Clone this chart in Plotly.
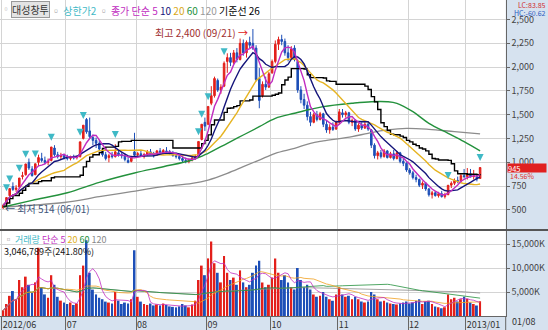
import plotly.graph_objects as go
import pandas as pd

# ---------------- data ----------------
month_labels = ["2012/06", "07", "08", "09", "10", "11", "12", "2013/01"]
month_bounds = [-0.5, 19.5, 41.5, 63.5, 83.5, 104.5, 126.5, 144.5]

open_ = [520, 560, 650, 745, 715, 740, 850, 870, 1000, 930,
         870, 1000, 1040, 1020, 1000, 1020, 1150, 1080, 1060, 1070,
         1050, 1040, 1060, 1050, 1060, 1250, 1450, 1330, 1260, 1230,
         1200, 1130, 1080, 1050, 1070, 1060, 1100, 1080, 1070, 1020,
         1010, 1110, 1080, 1090, 1070, 1080, 1110, 1090, 1075, 1120,
         1100, 1120, 1110, 1095, 1070, 1060, 1040, 1020, 1010, 1030,
         1045, 1060, 1240, 1420, 1400, 1620, 1700, 1860, 1760, 1800,
         2060, 2100, 2050, 2150, 2080, 2250, 2150, 2260, 2250, 2200,
         1880, 1700, 1820, 1790, 1940, 2060, 2240, 2290, 2270, 2150,
         2100, 2200, 2060, 1760, 1660, 1600, 1480, 1420, 1500, 1450,
         1510, 1400, 1340, 1370, 1350, 1420, 1520, 1500, 1520, 1420,
         1440, 1350, 1390, 1360, 1400, 1340, 1180, 1070, 1100, 1060,
         1120, 1050, 1090, 1040, 1100, 1010, 990, 920, 890, 840,
         820, 760, 780, 720, 660, 680, 650, 670, 640, 660,
         760, 780, 810, 800, 860, 850, 880, 850, 850, 830]
high = [565, 630, 724, 790, 760, 835, 900, 983, 1040, 960,
        985, 1080, 1100, 1060, 1040, 1161, 1180, 1110, 1100, 1090,
        1080, 1070, 1080, 1070, 1215, 1390, 1465, 1470, 1290, 1260,
        1230, 1150, 1110, 1090, 1110, 1190, 1130, 1100, 1090, 1060,
        1070, 1310, 1110, 1120, 1100, 1130, 1140, 1110, 1130, 1150,
        1140, 1160, 1130, 1120, 1100, 1080, 1070, 1050, 1040, 1060,
        1080, 1220, 1402, 1470, 1587, 1800, 1900, 1880, 1820, 2060,
        2145, 2150, 2180, 2200, 2300, 2290, 2280, 2320, 2400, 2230,
        1990, 1850, 1900, 1950, 2080, 2280, 2320, 2340, 2300, 2230,
        2220, 2230, 2080, 1800, 1720, 1640, 1530, 1520, 1540, 1530,
        1520, 1440, 1400, 1420, 1440, 1560, 1560, 1540, 1530, 1460,
        1450, 1410, 1420, 1430, 1420, 1350, 1200, 1120, 1130, 1140,
        1130, 1110, 1130, 1120, 1110, 1040, 1000, 940, 910, 870,
        830, 800, 790, 730, 700, 700, 690, 700, 680, 760,
        800, 830, 850, 880, 930, 940, 930, 920, 870, 950]
low = [514, 555, 640, 700, 690, 735, 820, 860, 920, 850,
       865, 960, 1000, 980, 970, 1010, 1060, 1040, 1030, 1030,
       1020, 1020, 1030, 1030, 1050, 1240, 1300, 1250, 1180, 1150,
       1120, 1060, 1020, 1000, 1040, 1050, 1060, 1040, 1010, 990,
       1000, 1060, 1050, 1060, 1040, 1070, 1080, 1050, 1070, 1090,
       1080, 1100, 1080, 1060, 1040, 1020, 1000, 990, 990, 1010,
       1030, 1055, 1230, 1330, 1390, 1600, 1680, 1740, 1720, 1790,
       1940, 2010, 2030, 2050, 2070, 2120, 2100, 2200, 2180, 1850,
       1568, 1680, 1760, 1780, 1930, 2040, 2180, 2230, 2120, 2060,
       2080, 2060, 1730, 1620, 1560, 1440, 1380, 1410, 1430, 1440,
       1370, 1310, 1300, 1330, 1340, 1400, 1470, 1470, 1400, 1380,
       1330, 1320, 1340, 1350, 1330, 1150, 1040, 1030, 1040, 1050,
       1040, 1040, 1020, 1030, 990, 960, 900, 870, 820, 790,
       740, 720, 700, 640, 620, 640, 630, 630, 620, 655,
       730, 760, 780, 790, 830, 820, 840, 820, 800, 825]
close = [548, 630, 724, 715, 730, 835, 860, 983, 940, 860,
         985, 1050, 1020, 1000, 1010, 1161, 1080, 1060, 1070, 1050,
         1040, 1060, 1045, 1058, 1215, 1390, 1320, 1270, 1230, 1200,
         1140, 1080, 1040, 1070, 1060, 1110, 1080, 1070, 1030, 1000,
         1060, 1075, 1090, 1070, 1080, 1110, 1090, 1075, 1120, 1100,
         1125, 1110, 1095, 1070, 1060, 1040, 1020, 1010, 1030, 1045,
         1060, 1219, 1400, 1380, 1587, 1700, 1880, 1760, 1790, 2040,
         2100, 2050, 2150, 2080, 2250, 2150, 2260, 2230, 2200, 1870,
         1650, 1820, 1790, 1930, 2060, 2240, 2290, 2270, 2150, 2100,
         2190, 2080, 1760, 1660, 1600, 1480, 1420, 1500, 1450, 1510,
         1400, 1340, 1370, 1345, 1420, 1530, 1500, 1520, 1420, 1440,
         1350, 1390, 1360, 1400, 1350, 1180, 1070, 1100, 1060, 1120,
         1050, 1090, 1040, 1100, 1010, 990, 920, 890, 840, 820,
         760, 780, 720, 660, 680, 650, 670, 640, 660, 759,
         780, 810, 800, 860, 850, 880, 850, 860, 825, 945]
volume_k = [1200, 2500, 4200, 5200, 3500, 7500, 6000, 8200, 6500, 4800,
            7000, 14200, 6000, 4500, 3800, 8500, 6500, 4000, 3200, 2800,
            2500, 2800, 2300, 2600, 8500, 10500, 15800, 9000, 5500, 4500,
            3800, 3500, 3000, 2800, 2600, 5000, 3200, 2500, 2800, 2600,
            3500, 13700, 4000, 3000, 2500, 2300, 2600, 2200, 2400, 2200,
            2600, 2300, 2000, 1900, 1800, 2000, 2500, 2200, 1800, 2400,
            3200, 7500, 10500, 8500, 12000, 15500, 11000, 9000, 7000, 12500,
            9000, 7500, 8000, 6500, 9500, 7000, 6000, 6500, 9000, 10500,
            11500, 7000, 6000, 6500, 8000, 12000, 9000, 7500, 8500, 7000,
            6000, 5500, 10000, 7500, 6000, 6500, 5500, 4500, 4000, 4200,
            5000, 4000, 3500, 3200, 4500, 6000, 4500, 4000, 4200, 3500,
            4000, 3500, 3000, 2800, 3000, 5000, 4500, 3500, 3000, 3200,
            2800, 2600, 2500, 2400, 2600, 2800, 3000, 2600, 2800, 3200,
            3500, 2500, 3000, 3200, 2500, 2000, 1800, 1600, 1800, 4500,
            3500, 3800, 3000, 3500, 4000, 3600, 2800, 2500, 2200, 3047]
limit_up_days = [1, 2, 5, 7, 10, 15, 24, 25, 35, 61, 62, 64, 69, 139, 149]

# long moving averages (they depend on earlier history)
ma60_days = [0, 9, 20, 30, 41, 50, 59, 64, 70, 75, 80, 85, 91, 96, 100,
             109, 115, 120, 123, 128, 133, 139, 144, 149]
ma60_vals = [531, 600, 680, 790, 888, 954, 1024, 1095, 1200, 1287, 1374, 1462,
             1515, 1557, 1585, 1620, 1637, 1637, 1620, 1532, 1410, 1305, 1217, 1120]
ma120_days = [0, 19, 30, 40, 50, 59, 64, 70, 75, 80, 85, 91, 96, 100,
              109, 114, 120, 126, 133, 141, 149]
ma120_vals = [531, 578, 639, 692, 744, 779, 814, 884, 954, 1024, 1095, 1147,
              1200, 1225, 1270, 1305, 1340, 1357, 1347, 1322, 1298]

# ---------------- derived series ----------------
n = len(close)
idx = list(range(n))
s_close = pd.Series(close)
ma5 = s_close.rolling(5, min_periods=1).mean()
ma10 = s_close.rolling(10, min_periods=1).mean()
ma20 = s_close.rolling(20, min_periods=1).mean()
kijun = (pd.Series(high).rolling(26, min_periods=1).max() +
         pd.Series(low).rolling(26, min_periods=1).min()) / 2
s_vol = pd.Series(volume_k)
vma5 = s_vol.rolling(5, min_periods=1).mean()
vma20 = s_vol.rolling(20, min_periods=1).mean()
vma60 = s_vol.rolling(60, min_periods=1).mean()
vma120 = s_vol.rolling(120, min_periods=1).mean()

UP = "#e3201b"
DOWN = "#1d4fb8"
C5, C10, C20, C60, C120, CK = "#c02cc0", "#14147a", "#e6b422", "#23913c", "#8c8c8c", "#000000"
CYAN = "#3fb9c6"
FONT = "Noto Sans CJK KR"

fig = go.Figure()

# price panel
fig.add_trace(go.Scatter(x=ma120_days, y=ma120_vals, mode="lines", line=dict(color=C120, width=1.3, shape="spline"),
                         xaxis="x", yaxis="y", hoverinfo="skip"))
fig.add_trace(go.Scatter(x=ma60_days, y=ma60_vals, mode="lines", line=dict(color=C60, width=1.4, shape="spline"),
                         xaxis="x", yaxis="y", hoverinfo="skip"))
fig.add_trace(go.Candlestick(x=idx, open=open_, high=high, low=low, close=close,
                             increasing=dict(line=dict(color=UP, width=1), fillcolor=UP),
                             decreasing=dict(line=dict(color=DOWN, width=1), fillcolor=DOWN),
                             whiskerwidth=0, xaxis="x", yaxis="y"))
fig.add_trace(go.Scatter(x=idx, y=kijun, mode="lines", line=dict(color=CK, width=1.4, shape="hv"),
                         xaxis="x", yaxis="y"))
fig.add_trace(go.Scatter(x=idx, y=ma20, mode="lines", line=dict(color=C20, width=1.4), xaxis="x", yaxis="y"))
fig.add_trace(go.Scatter(x=idx, y=ma10, mode="lines", line=dict(color=C10, width=1.4), xaxis="x", yaxis="y"))
fig.add_trace(go.Scatter(x=idx, y=ma5, mode="lines", line=dict(color=C5, width=1.4), xaxis="x", yaxis="y"))
fig.add_trace(go.Scatter(x=limit_up_days, y=[high[d] + 65 for d in limit_up_days], mode="markers",
                         marker=dict(symbol="arrow-down", size=7, color=CYAN, line=dict(width=0)),
                         xaxis="x", yaxis="y"))

# volume panel
vcolors = [UP if c >= o else DOWN for o, c in zip(open_, close)]
fig.add_trace(go.Bar(x=idx, y=volume_k, marker=dict(color=vcolors, line=dict(width=0)), width=0.6,
                     xaxis="x2", yaxis="y2"))
for s, c in [(vma120, C120), (vma60, C60), (vma20, "#f0a020"), (vma5, C5)]:
    fig.add_trace(go.Scatter(x=idx, y=s, mode="lines", line=dict(color=c, width=0.8), xaxis="x2", yaxis="y2"))

XR = [-1.03, 157.0]
XD = [0, 505.7 / 548]
H = 330.0
grid = "#d4d4d4"
fig.update_layout(
    width=548, height=330, margin=dict(l=0, r=0, t=0, b=0),
    paper_bgcolor="#d6e2ef", plot_bgcolor="#ffffff", showlegend=False,
    font=dict(family=FONT, size=9, color="#333"),
    xaxis=dict(domain=XD, range=XR, anchor="y", tickvals=month_bounds, showticklabels=False, ticks="",
               showgrid=True, gridcolor=grid, gridwidth=1, zeroline=False, rangeslider=dict(visible=False),
               showline=False),
    yaxis=dict(domain=[1 - 229 / H, 1], range=[299.6, 2705], side="right", anchor="x",
               tickvals=[500, 750, 1000, 1250, 1500, 1750, 2000, 2250, 2500],
               ticktext=["500", "750", "1,000", "1,250", "1,500", "1,750", "2,000", "2,250", "2,500"],
               ticks="outside", ticklen=3, tickcolor="#666", showgrid=True, gridcolor=grid, zeroline=False,
               showline=True, linecolor="#666", linewidth=1, tickfont=dict(size=9, color="#444")),
    xaxis2=dict(domain=XD, range=XR, anchor="y2", tickvals=month_bounds, ticktext=month_labels,
                ticks="outside", ticklen=14, tickcolor="#666", ticklabelposition="outside right",
                tickfont=dict(size=9, color="#333"), showgrid=True, gridcolor=grid, zeroline=False,
                showline=True, linecolor="#666"),
    yaxis2=dict(domain=[1 - 316 / H, 1 - 231 / H], range=[0, 17708], side="right", anchor="x2",
                tickvals=[5000, 10000, 15000], ticktext=["5,000K", "10,000K", "15,000K"],
                ticks="outside", ticklen=3, tickcolor="#666", showgrid=True, gridcolor=grid, zeroline=False,
                showline=True, linecolor="#666", tickfont=dict(size=9, color="#444")),
)

# separator between panels and in the date strip
fig.add_shape(type="line", xref="paper", yref="paper", x0=0, x1=1, y0=1 - 230 / H, y1=1 - 230 / H,
              line=dict(color="#555", width=2))
fig.add_shape(type="line", xref="paper", yref="paper", x0=505.7 / 548, x1=505.7 / 548, y0=0, y1=1 - 316 / H,
              line=dict(color="#666", width=1))

ann = []
ann.append(dict(xref="paper", yref="paper", x=0, y=1 - 1 / H, xanchor="left", yanchor="top",
                text="<span style='color:#999'>▫</span>", showarrow=False, font=dict(size=8)))
ann.append(dict(xref="paper", yref="paper", x=11 / 548, y=1 - 1 / H, xanchor="left", yanchor="top",
                text="대성창투", showarrow=False, font=dict(size=10, color="#333"),
                bgcolor="#e4e4e4", bordercolor="#9a9a9a", borderwidth=1, borderpad=0))
legend_top = ("<span style='color:#999'>▫</span> <span style='color:%s'>상한가2</span> "
              "<span style='color:#999'>▫</span> <span style='color:%s'>종가 단순 5</span> "
              "<span style='color:%s'>10</span> <span style='color:%s'>20</span> "
              "<span style='color:%s'>60</span> <span style='color:%s'>120</span> "
              "<span style='color:#000'>기준선 26</span>") % (CYAN, C5, C10, "#d8a818", C60, "#999")
ann.append(dict(xref="paper", yref="paper", x=49 / 548, y=1 - 1 / H, xanchor="left", yanchor="top",
                text=legend_top, showarrow=False, font=dict(size=10)))
ann.append(dict(xref="paper", yref="paper", x=1, y=1 + 2 / H, xanchor="right", yanchor="top",
                text="LC:83.85", showarrow=False, font=dict(size=7, color="#d03030")))
ann.append(dict(xref="paper", yref="paper", x=1, y=1 - 6 / H, xanchor="right", yanchor="top",
                text="HC:-60.62", showarrow=False, font=dict(size=7, color="#2a5cc0")))
ann.append(dict(xref="x", yref="y", x=78 - 1, y=2400 - 40, xanchor="right", yanchor="middle",
                text="최고 2,400 (09/21) <span style='color:#e02020'>→</span>", showarrow=False,
                font=dict(size=10, color="#a03030")))
ann.append(dict(xref="x", yref="y", x=0, y=514, xanchor="left", yanchor="middle",
                text="← 최저 514 (06/01)", showarrow=False, font=dict(size=10, color="#40557a")))
ann.append(dict(xref="paper", yref="y", x=507 / 548, y=close[-1] - 5, xanchor="left", yanchor="middle",
                text="945", showarrow=False, bgcolor="#e02020", width=38, height=8, align="left",
                borderpad=0, font=dict(size=7.5, color="#ffffff")))
ann.append(dict(xref="paper", yref="y", x=508 / 548, y=close[-1] - 92, xanchor="left", yanchor="middle",
                text="14.56%", showarrow=False, font=dict(size=7, color="#e03030")))
legend_vol = ("<span style='color:#999'>▫</span> <span style='color:%s'>거래량</span> "
              "<span style='color:%s'>단순 5</span> <span style='color:#e0b020'>20</span> "
              "<span style='color:%s'>60</span> <span style='color:#888'>120</span>") % (CYAN, C5, C60)
ann.append(dict(xref="paper", yref="paper", x=2 / 548, y=1 - 231 / H, xanchor="left", yanchor="top",
                text=legend_vol, showarrow=False, font=dict(size=9)))
ann.append(dict(xref="paper", yref="paper", x=2 / 548, y=1 - 243 / H, xanchor="left", yanchor="top",
                text="3,046,789주(241.80%)", showarrow=False, font=dict(size=9, color="#111")))
ann.append(dict(xref="paper", yref="paper", x=510 / 548, y=0, xanchor="left", yanchor="bottom",
                text="01/08", showarrow=False, font=dict(size=9, color="#333")))
fig.update_layout(annotations=ann)

fig.write_html("out.html")
